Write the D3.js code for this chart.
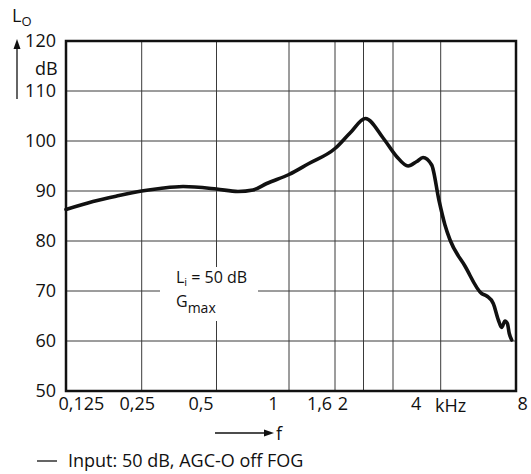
<!DOCTYPE html>
<html><head><meta charset="utf-8">
<script src="https://cdn.jsdelivr.net/npm/d3@7"></script>
<style>
body{margin:0;background:#fff}
svg text{font-family:"Open Sans",sans-serif;fill:#111}
</style>
</head><body>
<svg id="chart" width="531" height="474"></svg>
<script>
// ---- data ----
const freqs  = [0.125,0.160,0.199,0.25,0.296,0.367,0.5,0.614,0.709,0.808,1.0,1.214,1.6,1.80,2.03,2.32,2.59,2.90,3.16,3.36,3.66,3.93,4.16,4.36,5.0,5.83,6.11,6.49,6.80,7.01,7.23,7.39,7.52,7.69];
const levels = [86.3,87.9,89.0,90.0,90.5,90.9,90.4,89.9,90.2,91.5,93.3,95.4,98.5,101.6,104.5,100.6,96.9,95.0,95.9,96.7,95.2,88.2,83.2,80.2,75.0,69.5,69.0,67.5,64.2,62.7,64.0,63.5,61.5,60.2];
const yTicks = [50,60,70,80,90,100,110,120];
const yGrid  = [60,70,80,90,100,110];
const xGrid  = [0.25,0.5,1,1.6,2,2.5,4];
const xTickValues = [0.125,0.25,0.5,1,1.6,2,4,8];
const xTickLabels = ["0,125","0,25","0,5","1","1,6","2","4","8"];
const legendText = "Input: 50 dB, AGC-O off FOG";

// ---- layout ----
const svg = d3.select("#chart");
const L = 66, R = 516, T = 41, B = 391;
const x = d3.scaleLog()
  .domain([0.125,0.25,0.5,1,1.6,2,2.5,4,8])
  .range([66,141.7,216.5,289,335,363.5,393,440.7,516]);
const y = d3.scaleLinear().domain([50,120]).range([B,T]);

// grid
svg.append("g").selectAll("line").data(yGrid).join("line")
  .attr("x1",L).attr("x2",R).attr("y1",d=>y(d)).attr("y2",d=>y(d))
  .attr("stroke","#3a3a3a").attr("stroke-width",1);
svg.append("g").selectAll("line").data(xGrid).join("line")
  .attr("x1",d=>x(d)).attr("x2",d=>x(d)).attr("y1",T).attr("y2",B)
  .attr("stroke","#3a3a3a").attr("stroke-width",1);

// annotation box (white background)
svg.append("rect").attr("x",160).attr("y",267).attr("width",98).attr("height",54).attr("fill","#fff");
const ann = svg.append("text").attr("x",176).attr("y",283).attr("font-size",16);
ann.append("tspan").text("L");
ann.append("tspan").attr("font-size",11).attr("dy",3).text("i");
ann.append("tspan").attr("dy",-3).text(" = 50 dB");
const ann2 = svg.append("text").attr("x",176).attr("y",307).attr("font-size",16);
ann2.append("tspan").text("G");
ann2.append("tspan").attr("font-size",14).attr("dy",6).text("max");

// curve
const line = d3.line().x(d=>x(d[0])).y(d=>y(d[1])).curve(d3.curveMonotoneX);
svg.append("path").datum(freqs.map((f,i)=>[f,levels[i]]))
  .attr("d",line).attr("fill","none").attr("stroke","#111")
  .attr("stroke-width",3.6).attr("stroke-linejoin","round").attr("stroke-linecap","round");

// frame
svg.append("rect").attr("x",L).attr("y",T).attr("width",R-L).attr("height",B-T)
  .attr("fill","none").attr("stroke","#111").attr("stroke-width",2.5);

// y axis labels
const yAxis = d3.axisLeft(y).tickValues(yTicks).tickSize(0).tickPadding(10).tickFormat(d3.format("d"));
const gy = svg.append("g").attr("transform",`translate(${L},0)`).call(yAxis);
gy.select(".domain").remove();
gy.selectAll("text").attr("font-size",18).attr("font-family","Open Sans, sans-serif").attr("fill","#111");

// x axis labels
const xAxis = d3.axisBottom(x).tickValues(xTickValues).tickSize(0).tickPadding(6)
  .tickFormat((d,i)=>xTickLabels[i]);
const gx = svg.append("g").attr("transform",`translate(0,${B})`).call(xAxis);
gx.select(".domain").remove();
gx.selectAll("text").attr("font-size",18).attr("font-family","Open Sans, sans-serif").attr("fill","#111")
  .attr("text-anchor",(d,i)=> (i===0||i===xTickValues.length-1)?"start":"middle")
  .attr("dx",(d,i)=> i===0?-8 : i===xTickValues.length-1? 1 : (d===0.25?-5:(d===4?-25:(d===2?-21:-16))))
  .attr("dy","0.71em");
svg.append("text").attr("x",x(4)+10).attr("y",412).attr("text-anchor","middle").attr("font-size",18).text("kHz");

// y-axis quantity label with arrow
svg.append("line").attr("x1",17).attr("x2",17).attr("y1",99).attr("y2",48).attr("stroke","#111").attr("stroke-width",1.3);
svg.append("path").attr("d","M17,39 L13.5,49 L20.5,49 Z").attr("fill","#111");
svg.append("text").attr("x",35).attr("y",75).attr("font-size",18).text("dB");
const lo = svg.append("text").attr("x",12).attr("y",22).attr("font-size",18);
lo.append("tspan").text("L");
lo.append("tspan").attr("font-size",13).attr("dy",4).text("O");

// f arrow
svg.append("line").attr("x1",215).attr("x2",266).attr("y1",433).attr("y2",433).attr("stroke","#111").attr("stroke-width",1.3);
svg.append("path").attr("d","M274,433 L264,429.5 L264,436.5 Z").attr("fill","#111");
svg.append("text").attr("x",276).attr("y",440).attr("font-size",18).text("f");

// legend
svg.append("line").attr("x1",37).attr("x2",57).attr("y1",461).attr("y2",461).attr("stroke","#111").attr("stroke-width",1.3);
svg.append("text").attr("x",68).attr("y",467).attr("font-size",18).text(legendText);
</script>
</body></html>
